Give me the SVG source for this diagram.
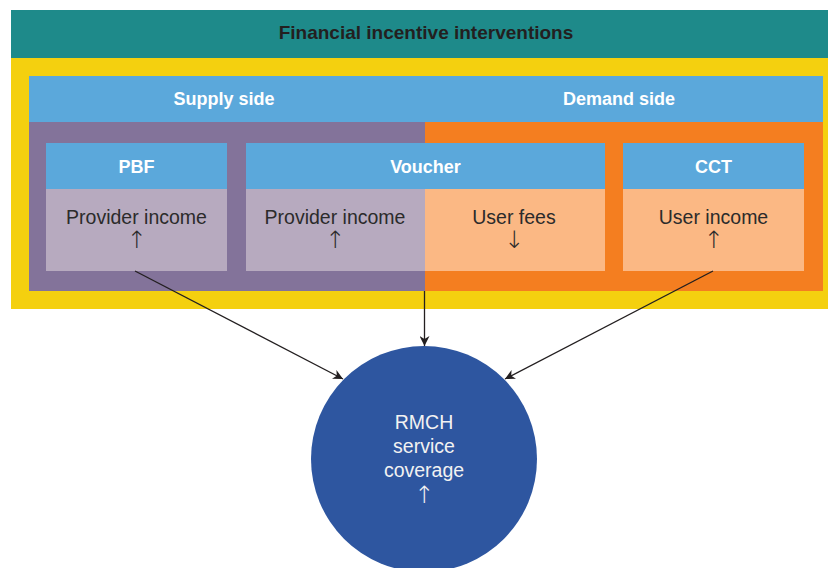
<svg xmlns="http://www.w3.org/2000/svg" width="829" height="568" viewBox="0 0 829 568">
<defs>
<style>
.hd{font-family:"Liberation Sans",Arial,sans-serif;font-weight:bold;font-size:18px;fill:#fff;text-anchor:middle}
.tt{font-family:"Liberation Sans",Arial,sans-serif;font-weight:bold;font-size:19px;fill:#231f20;text-anchor:middle}
.bd{font-family:"Liberation Sans",Arial,sans-serif;font-size:19.5px;fill:#2b2b2b;text-anchor:middle}
.cw{font-family:"Liberation Sans",Arial,sans-serif;font-size:19.5px;fill:#f2f2f2;text-anchor:middle}
.ar{font-family:"DejaVu Sans","Liberation Sans",sans-serif;font-weight:200;font-size:24px}
.blue{fill:#5ba8db}
.conn{stroke:#231f20;stroke-width:1.3;fill:none;marker-end:url(#ah)}
</style>
<marker id="ah" viewBox="0 0 10 10" refX="10" refY="5" markerWidth="10" markerHeight="10" markerUnits="userSpaceOnUse" orient="auto">
<path d="M0,0 L10,5 L0,10 L3,5 Z" fill="#231f20"/>
</marker>
</defs>
<g id="frame">
<rect x="11" y="10" width="817" height="48" fill="#1e8a8a"/>
<text class="tt" x="426" y="39">Financial incentive interventions</text>
<rect x="11" y="58" width="817" height="251" fill="#f4d00f"/>
<rect class="blue" x="29" y="76" width="794" height="46"/>
<text class="hd" x="224" y="105">Supply side</text>
<text class="hd" x="619" y="105">Demand side</text>
<rect x="29" y="122" width="396" height="169" fill="#83739a"/>
<rect x="425" y="122" width="398" height="169" fill="#f47e20"/>
</g>
<g id="pbf">
<rect class="blue" x="46" y="143" width="181" height="46"/>
<text class="hd" x="136.5" y="173">PBF</text>
<rect x="46" y="189" width="181" height="82" fill="#b7aabf"/>
<text class="bd" x="136.5" y="224">Provider income</text>
<text class="bd ar" x="136.5" y="248">↑</text>
</g>
<g id="voucher">
<rect class="blue" x="246" y="143" width="359" height="46"/>
<text class="hd" x="425.5" y="173">Voucher</text>
<rect x="246" y="189" width="179" height="82" fill="#b7aabf"/>
<rect x="425" y="189" width="180" height="82" fill="#fbb884"/>
<text class="bd" x="335" y="224">Provider income</text>
<text class="bd ar" x="335" y="248">↑</text>
<text class="bd" x="514" y="224">User fees</text>
<text class="bd ar" x="514" y="248">↓</text>
</g>
<g id="cct">
<rect class="blue" x="623" y="143" width="181" height="46"/>
<text class="hd" x="713.5" y="173">CCT</text>
<rect x="623" y="189" width="181" height="82" fill="#fbb884"/>
<text class="bd" x="713.5" y="224">User income</text>
<text class="bd ar" x="713.5" y="248">↑</text>
</g>
<g id="rmch">
<circle cx="424" cy="459" r="113" fill="#2e56a0"/>
<text class="cw" x="424" y="429">RMCH</text>
<text class="cw" x="424" y="453">service</text>
<text class="cw" x="424" y="477">coverage</text>
<text class="cw ar" x="424" y="503">↑</text>
</g>
<g id="connectors">
<line class="conn" x1="135" y1="271" x2="343" y2="379"/>
<line class="conn" x1="424.5" y1="291" x2="424.5" y2="346"/>
<line class="conn" x1="713" y1="271" x2="505" y2="379"/>
</g>
</svg>
